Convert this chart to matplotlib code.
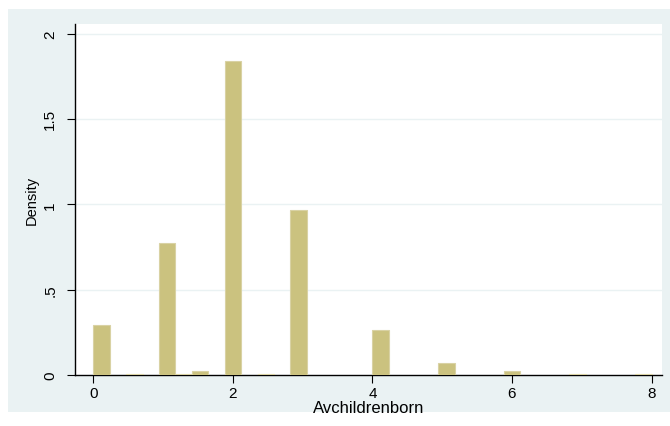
import numpy as np
import matplotlib
matplotlib.use("Agg")
import matplotlib.pyplot as plt

# Data: average children born (bin representative values) and histogram densities
values = [0, 0.5, 1, 1.25, 1.5, 2, 2.5, 3, 4, 5, 6, 7, 8]
densities = [0.293, 0.006, 0.775, 0.003, 0.023, 1.84, 0.006, 0.965,
             0.262, 0.070, 0.023, 0.006, 0.005]
n_bins = 34
x_range = (0, 8)
x_ticks = [0, 2, 4, 6, 8]
y_ticks = [0, 0.5, 1, 1.5, 2]
y_tick_labels = ["0", ".5", "1", "1.5", "2"]

plt.rcParams['font.family'] = ['Liberation Sans', 'DejaVu Sans']

bg = "#eaf2f3"
bar_color = "#cbc27f"
edge_color = "#d9d2a4"

fig = plt.figure(figsize=(6.7, 4.27), dpi=100)
fig.patch.set_facecolor("white")
# light graph region
fig.patches.append(plt.Rectangle((8 / 670, 1 - 413 / 427), 662 / 670, 403 / 427,
                                 transform=fig.transFigure, facecolor=bg,
                                 edgecolor="none", zorder=-10))

ax = fig.add_axes([74.7 / 670, 1 - 376 / 427, (662 - 74.7) / 670, (376 - 25) / 427])
ax.set_facecolor("white")

bin_width = (x_range[1] - x_range[0]) / n_bins
v = np.array(values, dtype=float)
idx = np.minimum(np.floor((v - x_range[0]) / bin_width + 1e-9), n_bins - 1)
lefts = x_range[0] + idx * bin_width
ax.bar(lefts, densities, width=bin_width, align="edge", color=bar_color,
       edgecolor=edge_color, linewidth=0.8, zorder=3)

ax.set_xlim(-0.267, 8.15)
ax.set_ylim(0, 2.056)

for t in y_ticks[1:]:
    ax.axhline(t, color=bg, linewidth=1.0, zorder=1)

for s in ["top", "right"]:
    ax.spines[s].set_visible(False)
for s in ["left", "bottom"]:
    ax.spines[s].set_color("black")
    ax.spines[s].set_linewidth(1.0)

ax.set_xticks(x_ticks)
ax.set_xticklabels([str(t) for t in x_ticks])
ax.set_yticks(y_ticks)
ax.set_yticklabels(y_tick_labels, rotation=90, va="center")
ax.tick_params(axis="both", direction="out", length=5.5, width=0.8,
               labelsize=11, color="black")
ax.tick_params(axis="x", pad=2.5)
ax.tick_params(axis="y", pad=7)

ax.set_xlabel("Avchildrenborn", fontsize=12, labelpad=0)
ax.set_ylabel("Density", fontsize=10.5, labelpad=3)

fig.savefig("out.png", dpi=100, facecolor=fig.get_facecolor())
